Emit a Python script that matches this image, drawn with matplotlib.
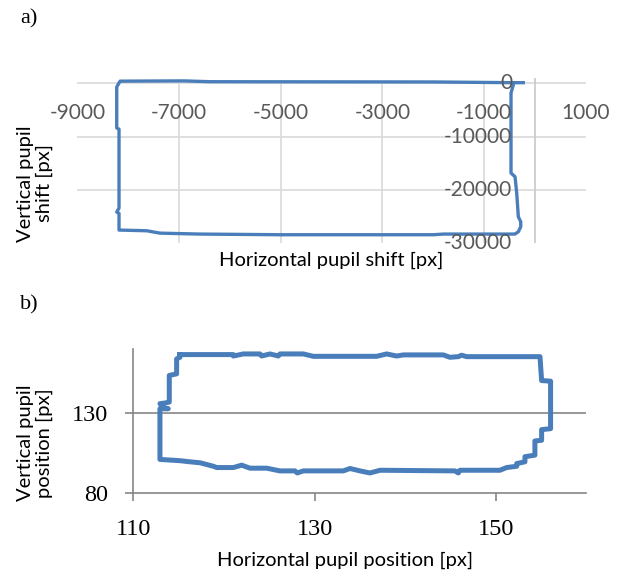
import numpy as np
import matplotlib.pyplot as plt

# --- panel a: pupil shift trace ---
shift_x = [-230, -430, -2000, -6400, -6900, -8161, -8226, -8226, -8181, -8181, -8226,
           -8181, -8181, -7636, -7375, -6600, -5000, -2000, -1800, -420, -393,
           -328, -281, -281, -328, -360, -393, -472, -472, -427, -430]
shift_y = [113, 113, 250, 300, 450, 400, -694, -8386, -8600, -23396, -24146,
           -24400, -27523, -27655, -28100, -28274, -28400, -28400, -28274, -28274, -28274,
           -27842, -26904, -25966, -25028, -20582, -17523, -16829, -1820, -319, 113]

# --- panel b: pupil position trace ---
pos_x = [115.15, 117.36, 121.04, 121.04, 122.14, 123.98, 124.16, 125.08, 126.00, 126.18,
         128.76, 129.86, 136.85, 137.95, 139.05, 139.80, 144.20, 144.93, 145.86, 146.22,
         146.77, 154.87, 155.05, 156.04, 156.04, 155.05, 155.05, 154.31, 154.31, 153.21,
         153.21, 152.30, 152.30, 151.19, 150.45, 146.04, 145.86, 145.49, 137.22, 136.11,
         135.01, 133.91, 133.17, 128.76, 128.09, 127.84, 126.18, 124.71, 122.87, 121.96,
         121.04, 119.20, 118.83, 117.36, 116.25, 115.15, 112.94, 112.94, 113.86, 113.30,
         112.94, 113.49, 113.97, 113.97, 114.78, 114.78, 115.15, 115.15]
pos_y = [166.7, 166.7, 166.7, 165.8, 167.1, 167.1, 165.8, 167.1, 165.8, 167.1,
         167.1, 165.6, 165.6, 167.1, 165.8, 166.5, 166.5, 165.0, 165.4, 166.3,
         165.4, 165.4, 150.4, 150.0, 120.2, 119.6, 112.9, 112.5, 103.6, 102.6,
         99.4, 98.3, 96.6, 95.8, 94.1, 94.1, 92.4, 93.7, 94.1, 92.4,
         93.7, 95.2, 93.7, 93.7, 92.4, 93.7, 93.7, 95.4, 95.4, 97.3,
         95.8, 95.8, 96.6, 98.8, 99.4, 100.1, 100.9, 132.7, 132.7, 133.4,
         135.9, 136.3, 136.9, 153.6, 154.6, 164.0, 165.0, 166.7]

a_xticks = [-9000, -7000, -5000, -3000, -1000, 1000]
a_yticks = [0, -10000, -20000, -30000]
b_xticks = [110, 130, 150]
b_yticks = [80, 130]

blue = '#4a7ebb'
sans = ['Lato', 'DejaVu Sans']
serif = ['Liberation Serif', 'DejaVu Serif']

fig = plt.figure(figsize=(6.22, 5.72), dpi=100)

# Panel a
ax1 = fig.add_axes([0.1244, 0.5747, 0.8175, 0.289])
ax1.set_xlim(-9000, 1000)
ax1.set_ylim(-30000, 1000)
for s in ['top', 'right', 'left', 'bottom']:
    ax1.spines[s].set_visible(False)
ax1.set_xticks(a_xticks)
ax1.set_yticks(a_yticks)
ax1.tick_params(length=0)
ax1.set_xticklabels([])
ax1.set_yticklabels([])
# gridlines
ax1.hlines(a_yticks[:-1], -9000, 1000, color='#d9d9d9', lw=1.2, zorder=0)
ax1.vlines(a_xticks[1:-1], -30000, 0, color='#d9d9d9', lw=1.2, zorder=0)
ax1.vlines(0, -30000, 1000, color='#c8c8c8', lw=1.2, zorder=0)
ax1.plot(shift_x, shift_y, color=blue, lw=2.4, solid_joinstyle='round', zorder=3)
# tick labels sit at the axes crossing (x-axis at y=0, y-axis at x=0)
for xt in a_xticks:
    ax1.annotate(f'{xt}', (xt, 0), xytext=(0, -30), textcoords='offset pixels',
                 ha='center', va='center', fontsize=15, color='#595959', family=sans)
for yt in a_yticks:
    ax1.annotate(f'{yt}', (0, yt), xytext=(-23, 0), textcoords='offset pixels',
                 ha='right', va='center', fontsize=15, color='#595959', family=sans)
ax1.set_xlabel('Horizontal pupil shift [px]', fontsize=14.5, family=sans, va='center')
ax1.xaxis.set_label_coords(0.5, -0.101)
ax1.set_ylabel('Vertical pupil\nshift [px]', fontsize=14.5, family=sans,
               linespacing=1.08, va='center')
ax1.yaxis.set_label_coords(-0.0834, 0.362)

# Panel b
ax2 = fig.add_axes([0.2143, 0.1386, 0.7286, 0.2507])
ax2.set_xlim(110, 160)
ax2.set_ylim(80, 170)
ax2.spines['top'].set_visible(False)
ax2.spines['right'].set_visible(False)
for s in ['left', 'bottom']:
    ax2.spines[s].set_color('#868686')
    ax2.spines[s].set_linewidth(1.2)
ax2.set_xticks(b_xticks)
ax2.set_yticks(b_yticks)
ax2.tick_params(length=6, width=1.2, color='#868686', labelsize=17.5)
ax2.tick_params(axis='x', pad=13)
ax2.tick_params(axis='y', pad=12)
for lab in ax2.get_xticklabels() + ax2.get_yticklabels():
    lab.set_family(serif)
ax2.hlines(b_yticks[1:], 110, 160, color='#868686', lw=1.2, zorder=0)
ax2.plot(pos_x, pos_y, color=blue, lw=3.6, solid_joinstyle='round', zorder=3)
ax2.set_xlabel('Horizontal pupil position [px]', fontsize=14.5, family=sans, va='center')
ax2.xaxis.set_label_coords(0.468, -0.469)
ax2.set_ylabel('Vertical pupil\nposition [px]', fontsize=14.5, family=sans,
               linespacing=1.08, va='center')
ax2.yaxis.set_label_coords(-0.217, 0.347)

fig.text(20 / 622, 1 - 19 / 572, 'a)', fontsize=16, family=serif, va='center')
fig.text(20 / 622, 1 - 305 / 572, 'b)', fontsize=16, family=serif, va='center')

fig.savefig('out.png', dpi=100)
